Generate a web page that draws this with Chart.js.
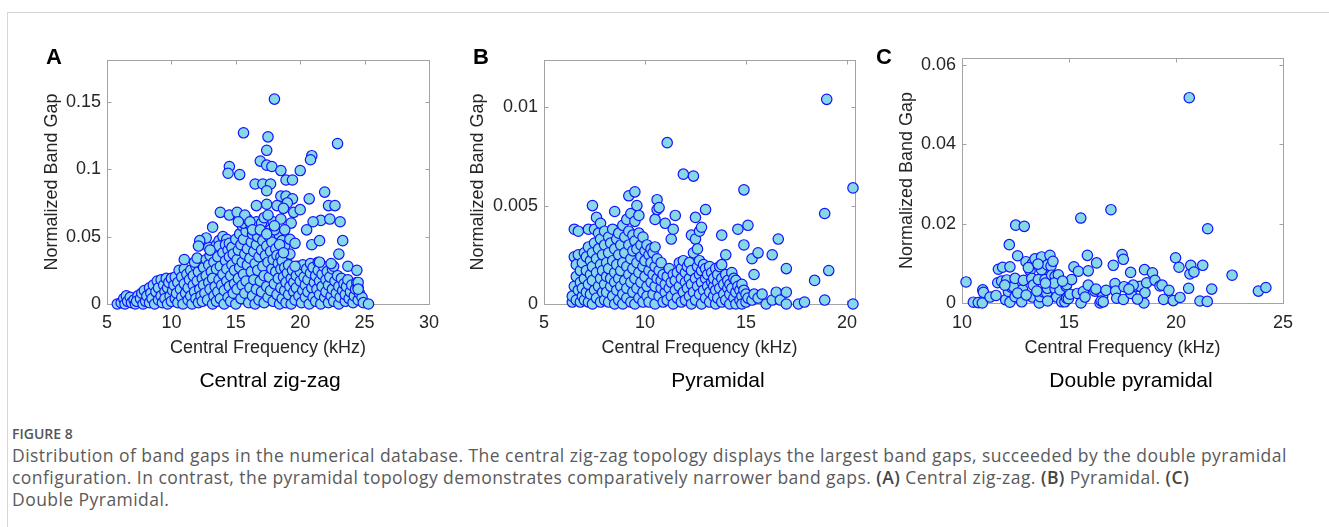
<!DOCTYPE html>
<html>
<head>
<meta charset="utf-8">
<script src="https://cdn.jsdelivr.net/npm/chart.js@4.4.1/dist/chart.umd.min.js"></script>
<style>
  html, body { margin: 0; padding: 0; background: #fff; }
  body { width: 1329px; height: 527px; position: relative; overflow: hidden; }
  .frame { position: absolute; left: 7px; top: 12px; width: 1340px; height: 540px; border: 1px solid #d6d6d6; box-sizing: border-box; }
  canvas { position: absolute; top: 0; }
  .tag { position: absolute; top: 46px; font: bold 22px/22px "Liberation Sans", Arial, sans-serif; color: #000; }
  .name { position: absolute; top: 368px; font: 21px/24px "Liberation Sans", Arial, sans-serif; color: #000;
          transform: translateX(-50%); white-space: nowrap; }
  .fig { position: absolute; left: 12px; top: 425px; font: 600 14px/18px "Open Sans", sans-serif; color: #555; }
  .caption { position: absolute; left: 12px; top: 444px; font: 17.5px/22px "Open Sans", sans-serif; letter-spacing: 0.45px;
             color: #5a5a5a; white-space: nowrap; }
  .caption b { font-weight: 600; color: #444; }
</style>
</head>
<body>
<div class="frame"></div>
<div id="charts"></div>
<div class="tag" style="left:46px">A</div>
<div class="tag" style="left:473px">B</div>
<div class="tag" style="left:876px">C</div>
<div class="name" style="left:270px">Central zig-zag</div>
<div class="name" style="left:718px">Pyramidal</div>
<div class="name" style="left:1131px">Double pyramidal</div>
<div class="fig">FIGURE 8</div>
<div class="caption">Distribution of band gaps in the numerical database. The central zig-zag topology displays the largest band gaps, succeeded by the double pyramidal<br>configuration. In contrast, the pyramidal topology demonstrates comparatively narrower band gaps. <b>(A)</b> Central zig-zag. <b>(B)</b> Pyramidal. <b>(C)</b><br>Double Pyramidal.</div>

<script>
// ---- data: [central frequency kHz, normalized band gap] ----
const zigzagXTicks = [5, 10, 15, 20, 25, 30];
const zigzagYTicks = [0, 0.05, 0.1, 0.15];
const zigzagPoints = [
  [5.8,0.000],[6.1,0.001],[6.3,0.004],[6.5,0.006],[6.4,0.000],[6.6,0.002],
  [6.8,0.005],[6.9,0.001],[7.1,0.003],[7.2,0.000],[7.4,0.006],[7.3,0.002],
  [7.6,0.004],[7.7,0.008],[7.8,0.000],[7.9,0.010],[8.0,0.002],[8.1,0.006],[8.3,0.012],[8.3,0.001],[8.4,0.008],[8.5,0.004],
  [8.6,0.014],[8.7,0.000],[8.8,0.009],[8.9,0.017],[9.0,0.003],[9.0,0.012],[9.2,0.006],[9.2,0.018],[9.3,0.001],[9.4,0.014],[9.5,0.009],[9.5,0.004],
  [9.6,0.019],[9.7,0.000],[9.7,0.012],[9.8,0.016],[9.9,0.006],[10.0,0.002],[10.0,0.019],[10.1,0.010],[10.2,0.014],[10.3,0.004],[10.3,0.020],[10.4,0.008],[10.5,0.001],[10.5,0.016],
  [10.6,0.025],[10.7,0.011],[10.8,0.005],[10.8,0.020],[10.9,0.000],[11.0,0.015],[11.0,0.026],[11.1,0.008],[11.2,0.022],[11.3,0.003],[11.3,0.012],[11.4,0.018],[11.5,0.006],[11.5,0.025],
  [11.6,0.000],[11.7,0.014],[11.7,0.021],[11.8,0.009],[11.9,0.028],[11.9,0.004],[12.0,0.017],[12.1,0.024],[12.1,0.001],[12.2,0.011],[12.3,0.030],[12.3,0.006],[12.4,0.019],[12.5,0.014],[12.5,0.027],[12.4,0.002],
  [11.8,0.031],[12.0,0.034],[11.0,0.033],
  [12.6,0.008],[12.7,0.033],[12.7,0.021],[12.8,0.003],[12.9,0.016],[12.9,0.029],[13.0,0.011],[13.0,0.036],[13.1,0.024],[13.2,0.000],[13.2,0.019],[13.3,0.006],[13.3,0.031],[13.4,0.013],[13.4,0.040],[13.5,0.026],[13.5,0.002],
  [12.9,0.042],[13.5,0.044],[13.7,0.047],[14.0,0.050],[14.3,0.048],
  [13.6,0.009],[13.6,0.035],[13.7,0.018],[13.7,0.043],[13.8,0.004],[13.8,0.028],[13.9,0.014],[14.0,0.038],[14.0,0.022],[14.1,0.000],[14.1,0.010],[14.2,0.032],[14.2,0.044],[14.3,0.017],[14.3,0.026],[14.4,0.005],[14.4,0.040],[14.5,0.013],[14.5,0.035],[14.5,0.045],
  [14.6,0.002],[14.6,0.021],[14.7,0.029],[14.7,0.042],[14.8,0.008],[14.8,0.037],[14.9,0.015],[14.9,0.025],[15.0,0.048],[15.0,0.000],[15.1,0.033],[15.1,0.011],[15.2,0.019],[15.2,0.040],[15.3,0.027],[15.3,0.052],[15.4,0.004],[15.4,0.044],[15.5,0.014],[15.5,0.031],[15.5,0.058],
  [15.6,0.022],[15.6,0.048],[15.7,0.037],[15.7,0.008],[15.8,0.054],[15.8,0.017],[15.9,0.029],[15.9,0.041],[16.0,0.001],[16.0,0.060],[16.1,0.012],[16.1,0.034],[16.2,0.046],[16.2,0.024],[16.3,0.006],[16.3,0.052],[16.4,0.018],[16.4,0.039],[16.5,0.030],[16.5,0.000],[16.5,0.057],
  [16.6,0.011],[16.6,0.044],[16.7,0.025],[16.7,0.050],[16.8,0.003],[16.8,0.035],[16.9,0.017],[16.9,0.055],[17.0,0.040],[17.0,0.009],[17.1,0.028],[17.1,0.047],[17.2,0.021],[17.2,0.001],[17.3,0.036],[17.3,0.058],[17.4,0.013],[17.4,0.043],[17.5,0.031],[17.5,0.005],
  [15.2,0.063],[15.6,0.060],[15.9,0.063],[16.2,0.058],[16.6,0.061],[17.0,0.060],[17.2,0.064],[17.7,0.055],[17.9,0.061],[18.3,0.052],[18.6,0.047],[18.8,0.043],[19.0,0.036],[18.9,0.033],[19.2,0.037],
  [17.6,0.050],[17.6,0.020],[17.7,0.039],[17.7,0.010],[17.8,0.026],[17.8,0.046],[17.9,0.002],[17.9,0.033],[18.0,0.015],[18.0,0.055],[18.1,0.041],[18.1,0.024],[18.2,0.007],[18.2,0.036],[18.3,0.019],[18.3,0.030],[18.4,0.000],[18.4,0.044],[18.5,0.012],[18.5,0.035],[18.5,0.026],
  [18.6,0.004],[18.6,0.032],[18.7,0.020],[18.7,0.038],[18.8,0.010],[18.8,0.027],[18.9,0.016],[18.9,0.001],[19.0,0.023],[19.1,0.007],[19.1,0.029],[19.2,0.013],[19.3,0.019],[19.3,0.000],[19.4,0.025],[19.5,0.009],[19.5,0.016],
  [19.6,0.003],[19.7,0.021],[19.7,0.012],[19.8,0.028],[19.9,0.006],[20.0,0.017],[20.0,0.024],[20.1,0.001],[20.2,0.010],[20.2,0.029],[20.3,0.020],[20.4,0.014],[20.4,0.005],[20.5,0.026],
  [20.6,0.009],[20.6,0.018],[20.7,0.000],[20.8,0.030],[20.8,0.023],[20.9,0.012],[21.0,0.005],[21.0,0.027],[21.1,0.016],[21.2,0.021],[21.2,0.002],[21.3,0.011],[21.4,0.031],[21.4,0.025],[21.5,0.007],[21.5,0.017],
  [21.6,0.000],[21.7,0.022],[21.7,0.013],[21.8,0.028],[21.9,0.005],[22.0,0.018],[22.0,0.009],[22.1,0.024],[22.2,0.001],[22.2,0.014],[22.3,0.020],[22.4,0.006],[22.5,0.011],[22.5,0.026],
  [22.6,0.002],[22.7,0.017],[22.8,0.008],[22.9,0.021],[23.0,0.013],[23.0,0.000],[23.1,0.005],[23.2,0.019],[23.3,0.010],[23.4,0.015],[23.5,0.002],[23.5,0.007],
  [23.6,0.013],[23.7,0.018],[23.8,0.004],[23.9,0.009],[24.0,0.014],[24.1,0.001],[24.2,0.006],[24.3,0.011],[24.4,0.016],[24.5,0.003],[24.5,0.012],[24.6,0.008],[24.8,0.005],[24.9,0.001],[25.3,0.000],
  [18.0,0.152],[15.6,0.127],[17.5,0.124],[22.9,0.119],[17.4,0.114],[16.9,0.106],[20.9,0.110],[20.8,0.107],[17.4,0.103],[17.8,0.102],
  [18.5,0.099],[20.0,0.099],[14.5,0.102],[14.4,0.097],[15.3,0.096],[18.9,0.092],[19.4,0.092],[16.5,0.089],[17.1,0.089],[17.7,0.089],
  [17.4,0.084],[21.9,0.083],[20.7,0.078],[18.5,0.080],[18.9,0.080],[19.4,0.078],[19.0,0.075],[16.6,0.073],[17.4,0.074],[22.2,0.073],
  [22.7,0.073],[18.2,0.073],[18.7,0.071],[19.5,0.068],[20.0,0.070],[17.5,0.066],[13.8,0.068],[14.5,0.066],[15.1,0.068],[15.7,0.066],
  [21.6,0.062],[21.0,0.061],[22.3,0.063],[23.1,0.061],[18.5,0.063],[19.3,0.060],[20.5,0.055],[13.2,0.057],[15.2,0.061],[16.1,0.061],
  [16.3,0.055],[16.9,0.055],[17.4,0.052],[18.0,0.058],[18.8,0.055],[19.2,0.048],[19.6,0.045],[20.9,0.044],[21.5,0.047],[23.3,0.047],
  [23.0,0.037],[23.7,0.028],[24.4,0.025],[24.5,0.016],[24.5,0.011],[22.6,0.028],[21.5,0.031],[19.6,0.028],[12.7,0.049],[12.2,0.047],
  [12.1,0.043],[13.0,0.040],[22.4,0.030]
];

const pyramidalXTicks = [5, 10, 15, 20];
const pyramidalYTicks = [0, 0.005, 0.01];
const pyramidalPoints = [
  [6.4,0.0001],[6.4,0.0004],[6.5,0.0009],[6.5,0.0024],[6.5,0.0038],[6.6,0.0002],[6.6,0.0014],[6.6,0.0020],
  [6.7,0.0007],[6.7,0.0025],[6.7,0.0037],[6.8,0.0001],[6.8,0.0011],[6.8,0.0017],[6.9,0.0004],[6.9,0.0021],[6.9,0.0008],
  [7.0,0.0013],[7.0,0.0026],[7.0,0.0002],[7.1,0.0006],[7.1,0.0017],[7.1,0.0024],[7.2,0.0001],[7.2,0.0010],[7.2,0.0029],[7.2,0.0038],
  [7.3,0.0005],[7.3,0.0015],[7.3,0.0022],[7.4,0.0000],[7.4,0.0012],[7.4,0.0019],[7.4,0.0026],[7.4,0.0050],
  [7.5,0.0007],[7.5,0.0031],[7.5,0.0038],[7.6,0.0003],[7.6,0.0016],[7.6,0.0023],[7.6,0.0044],[7.7,0.0009],[7.7,0.0028],[7.7,0.0036],
  [7.8,0.0001],[7.8,0.0013],[7.8,0.0020],[7.8,0.0033],[7.8,0.0041],[7.9,0.0006],[7.9,0.0017],[7.9,0.0025],
  [8.0,0.0002],[8.0,0.0010],[8.0,0.0030],[8.0,0.0037],[8.1,0.0014],[8.1,0.0021],[8.1,0.0006],
  [8.2,0.0001],[8.2,0.0018],[8.2,0.0026],[8.2,0.0034],[8.3,0.0009],[8.3,0.0013],[8.3,0.0031],[8.4,0.0004],[8.4,0.0022],[8.4,0.0038],
  [8.5,0.0000],[8.5,0.0011],[8.5,0.0016],[8.5,0.0028],[8.5,0.0047],[8.6,0.0007],[8.6,0.0020],[8.6,0.0033],
  [8.7,0.0002],[8.7,0.0013],[8.7,0.0025],[8.7,0.0036],[8.8,0.0009],[8.8,0.0017],[8.8,0.0030],
  [8.9,0.0000],[8.9,0.0005],[8.9,0.0021],[8.9,0.0040],[9.0,0.0012],[9.0,0.0026],[9.0,0.0034],
  [9.1,0.0003],[9.1,0.0008],[9.1,0.0019],[9.1,0.0043],[9.2,0.0015],[9.2,0.0030],[9.2,0.0037],[9.2,0.0055],
  [9.3,0.0001],[9.3,0.0011],[9.3,0.0023],[9.3,0.0046],[9.4,0.0006],[9.4,0.0018],[9.4,0.0027],[9.4,0.0035],
  [9.5,0.0000],[9.5,0.0013],[9.5,0.0032],[9.5,0.0042],[9.5,0.0057],[9.6,0.0008],[9.6,0.0021],[9.6,0.0028],[9.6,0.0050],
  [9.7,0.0003],[9.7,0.0016],[9.7,0.0036],[9.7,0.0045],[9.8,0.0011],[9.8,0.0024],[9.8,0.0030],
  [9.9,0.0001],[9.9,0.0006],[9.9,0.0019],[9.9,0.0034],[10.0,0.0014],[10.0,0.0027],[10.0,0.0022],
  [10.1,0.0004],[10.1,0.0009],[10.1,0.0030],[10.2,0.0017],[10.2,0.0025],[10.2,0.0001],
  [10.3,0.0011],[10.3,0.0021],[10.3,0.0028],[10.4,0.0005],[10.4,0.0015],[10.4,0.0026],
  [10.5,0.0000],[10.5,0.0009],[10.5,0.0019],[10.5,0.0029],[10.5,0.0043],[10.6,0.0013],[10.6,0.0023],[10.6,0.0053],[10.6,0.0048],
  [10.7,0.0004],[10.7,0.0017],[10.7,0.0049],[10.8,0.0008],[10.8,0.0012],[10.8,0.0021],[10.9,0.0001],[10.9,0.0015],
  [11.0,0.0006],[11.0,0.0010],[11.0,0.0041],[11.1,0.0002],[11.1,0.0014],[11.1,0.0082],[11.2,0.0008],[11.2,0.0018],
  [11.3,0.0004],[11.3,0.0011],[11.3,0.0033],[11.4,0.0000],[11.4,0.0015],[11.4,0.0038],[11.5,0.0045],[11.5,0.0007],[11.5,0.0012],
  [11.6,0.0003],[11.6,0.0016],[11.7,0.0009],[11.7,0.0021],[11.8,0.0001],[11.8,0.0013],[11.8,0.0018],
  [11.9,0.0006],[11.9,0.0022],[11.9,0.0066],[12.0,0.0011],[12.0,0.0016],[12.0,0.0002],[12.1,0.0008],[12.1,0.0019],
  [12.2,0.0004],[12.2,0.0013],[12.2,0.0021],[12.3,0.0000],[12.3,0.0010],[12.3,0.0017],[12.3,0.0035],
  [12.4,0.0006],[12.4,0.0026],[12.4,0.0065],[12.5,0.0002],[12.5,0.0013],[12.5,0.0044],[12.5,0.0033],
  [12.6,0.0009],[12.6,0.0019],[12.6,0.0028],[12.7,0.0005],[12.7,0.0015],[12.7,0.0022],[12.7,0.0037],
  [12.8,0.0000],[12.8,0.0011],[12.8,0.0017],[12.8,0.0039],[12.9,0.0007],[12.9,0.0020],
  [13.0,0.0003],[13.0,0.0013],[13.0,0.0018],[13.0,0.0048],[13.1,0.0009],[13.1,0.0015],
  [13.2,0.0001],[13.2,0.0006],[13.2,0.0019],[13.3,0.0011],[13.3,0.0016],[13.4,0.0004],[13.4,0.0009],[13.4,0.0013],
  [13.5,0.0000],[13.5,0.0018],[13.5,0.0007],[13.6,0.0011],[13.6,0.0015],[13.6,0.0003],[13.7,0.0008],[13.7,0.0019],
  [13.8,0.0001],[13.8,0.0013],[13.8,0.0035],[13.8,0.0020],[13.9,0.0005],[13.9,0.0010],
  [14.0,0.0002],[14.0,0.0015],[14.0,0.0025],[14.1,0.0008],[14.1,0.0012],[14.2,0.0000],[14.2,0.0005],[14.2,0.0010],
  [14.3,0.0016],[14.3,0.0008],[14.4,0.0003],[14.4,0.0013],[14.5,0.0006],[14.5,0.0012],[14.5,0.0000],[14.6,0.0009],[14.6,0.0038],
  [14.7,0.0002],[14.7,0.0007],[14.8,0.0004],[14.8,0.0010],[14.8,0.0000],[14.9,0.0007],[14.9,0.0030],[14.9,0.0058],
  [15.0,0.0001],[15.0,0.0005],[15.1,0.0003],[15.1,0.0040],[15.3,0.0002],[15.3,0.0023],[15.4,0.0005],[15.4,0.0015],
  [15.6,0.0003],[15.6,0.0026],[15.8,0.0005],[16.0,0.0000],[16.3,0.0002],[16.3,0.0025],[16.5,0.0006],[16.6,0.0033],
  [16.7,0.0002],[17.0,0.0006],[17.0,0.0018],[17.0,0.0000],[17.6,0.0000],[17.9,0.0001],[18.4,0.0012],
  [18.9,0.0002],[18.9,0.0046],[19.0,0.0104],[19.1,0.0017],[20.3,0.0059],[20.3,0.0000]
];

const doubleXTicks = [10, 15, 20, 25];
const doubleYTicks = [0, 0.02, 0.04, 0.06];
const doublePoints = [
  [10.19,0.0053],[10.53,0.0002],[10.76,0.0001],[10.95,0.0000],[10.97,0.0033],[11.00,0.0027],[11.31,0.0015],[11.59,0.0019],
  [11.67,0.0051],[11.70,0.0085],[11.90,0.0090],[11.85,0.0055],[12.04,0.0008],[12.09,0.0058],[12.17,0.0029],[12.24,0.0091],
  [12.21,0.0147],[12.24,0.0002],[12.30,0.0040],[12.40,0.0041],[12.48,0.0062],[12.48,0.0016],[12.51,0.0196],[12.60,0.0119],
  [12.79,0.0003],[12.83,0.0034],[12.87,0.0057],[12.91,0.0193],[12.99,0.0104],[13.18,0.0081],[13.26,0.0062],
  [13.29,0.0015],[13.29,0.0100],[13.33,0.0045],[13.41,0.0111],[13.57,0.0059],[13.61,0.0000],[13.65,0.0016],
  [13.72,0.0084],[13.72,0.0116],[13.80,0.0028],[13.88,0.0059],[13.96,0.0025],[13.99,0.0096],[13.99,0.0037],
  [14.11,0.0120],[14.16,0.0093],[14.19,0.0070],[14.35,0.0036],[14.35,0.0067],[14.42,0.0015],[14.50,0.0071],[14.58,0.0033],
  [14.66,0.0003],[14.81,0.0003],[14.86,0.0042],[14.89,0.0012],[14.89,0.0046],[14.97,0.0011],[15.05,0.0022],[15.12,0.0059],
  [15.23,0.0091],[15.39,0.0024],[15.44,0.0080],[15.55,0.0214],[15.56,0.0000],[15.67,0.0029],[15.75,0.0015],[15.86,0.0120],
  [15.90,0.0045],[15.90,0.0081],[16.21,0.0030],[16.26,0.0035],[16.29,0.0101],[16.45,0.0000],[16.57,0.0015],[16.73,0.0032],
  [16.96,0.0235],[17.07,0.0095],[17.15,0.0049],[17.18,0.0030],[17.23,0.0012],[17.48,0.0122],[17.54,0.0110],[17.54,0.0009],
  [17.57,0.0041],[17.88,0.0077],[17.90,0.0024],[18.13,0.0041],[18.32,0.0042],[18.50,0.0000],[18.53,0.0084],[18.55,0.0026],
  [18.63,0.0051],[18.90,0.0076],[19.02,0.0057],[19.25,0.0043],[19.35,0.0045],[19.42,0.0009],[19.67,0.0032],[19.87,0.0006],
  [19.98,0.0114],[20.14,0.0090],[20.19,0.0014],[20.59,0.0037],[20.62,0.0517],[20.65,0.0073],[20.69,0.0095],[20.84,0.0078],
  [21.12,0.0005],[21.25,0.0095],[21.46,0.0004],[21.48,0.0187],[21.67,0.0035],[22.62,0.0070],[23.85,0.0030],[24.20,0.0039],
  [12.60,0.0025],[13.00,0.0020],[13.50,0.0030],[14.00,0.0005],[14.30,0.0050],[12.00,0.0045],[13.90,0.0050],[14.70,0.0055],
  [16.50,0.0005],[16.60,0.0003],[18.00,0.0045],[18.20,0.0010],[17.80,0.0035],[13.10,0.0089],[13.55,0.0098],[14.25,0.0105]
];

const TEXT = '#262626';
const AXIS = '#a3a3a3';
const FONT = '"Liberation Sans", Arial, sans-serif';

// MATLAB-like box with inward ticks on all four sides
const axesBox = {
  id: 'axesBox',
  beforeDatasetsDraw(chart) {
    const { ctx, chartArea: a, scales: { x, y } } = chart;
    const L = Math.round(a.left) + 0.5, R = Math.round(a.right) + 0.5;
    const T = Math.round(a.top) + 0.5, B = Math.round(a.bottom) + 0.5;
    ctx.save();
    ctx.strokeStyle = AXIS;
    ctx.lineWidth = 1;
    ctx.strokeRect(L, T, R - L, B - T);
    ctx.beginPath();
    x.ticks.forEach((t) => {
      const px = Math.round(x.getPixelForValue(t.value)) + 0.5;
      ctx.moveTo(px, B); ctx.lineTo(px, B - 4);
      ctx.moveTo(px, T); ctx.lineTo(px, T + 4);
    });
    y.ticks.forEach((t) => {
      const py = Math.round(y.getPixelForValue(t.value)) + 0.5;
      ctx.moveTo(L, py); ctx.lineTo(L + 4, py);
      ctx.moveTo(R, py); ctx.lineTo(R - 4, py);
    });
    ctx.stroke();
    ctx.restore();
  }
};

const panels = [
  { points: zigzagPoints, xTicks: zigzagXTicks, yTicks: zigzagYTicks, xMin: 5, xMax: 30, yMax: 0.181,
    left: 0, width: 450, area: { left: 107, top: 60, right: 429, bottom: 304 }, yTitleX: 52 },
  { points: pyramidalPoints, xTicks: pyramidalXTicks, yTicks: pyramidalYTicks, xMin: 5, xMax: 20.4, yMax: 0.0124,
    left: 440, width: 430, area: { left: 104, top: 60, right: 415, bottom: 304 }, yTitleX: 38 },
  { points: doublePoints, xTicks: doubleXTicks, yTicks: doubleYTicks, xMin: 10, xMax: 25, yMax: 0.0617,
    left: 870, width: 459, area: { left: 92, top: 58, right: 413, bottom: 303 }, yTitleX: 37 },
];

const H = 370;
const HALF_LINE = 18 * 1.2 / 2;

panels.forEach((p) => {
  const cv = document.createElement('canvas');
  cv.width = p.width; cv.height = H;
  cv.style.left = p.left + 'px';
  document.getElementById('charts').appendChild(cv);

  const padLeft = p.yTitleX - HALF_LINE;
  const xScaleH = 348 + HALF_LINE - p.area.bottom;
  const tickFont = { family: FONT, size: 18 };

  new Chart(cv, {
    type: 'scatter',
    data: {
      datasets: [{
        data: p.points.map(([x, y]) => ({ x, y })),
        pointRadius: 5.2,
        pointBorderWidth: 1.2,
        pointBackgroundColor: '#86d8e7',
        pointBorderColor: '#1212ff',
        clip: false,
      }],
    },
    options: {
      responsive: false, animation: false, devicePixelRatio: 1,
      events: [],
      layout: { padding: { left: padLeft, top: p.area.top, right: p.width - p.area.right, bottom: H - p.area.bottom - xScaleH } },
      plugins: { legend: { display: false }, tooltip: { enabled: false } },
      scales: {
        x: {
          type: 'linear', min: p.xMin, max: p.xMax,
          grid: { display: false, drawTicks: false }, border: { display: false },
          afterBuildTicks: (s) => { s.ticks = p.xTicks.map((v) => ({ value: v })); },
          afterFit: (s) => { s.height = xScaleH; },
          ticks: { padding: 323 - p.area.bottom - HALF_LINE, font: tickFont, color: TEXT, maxRotation: 0, autoSkip: false, callback: (v) => String(v) },
          title: { display: true, text: 'Central Frequency (kHz)', font: tickFont, color: TEXT, padding: 0 },
        },
        y: {
          type: 'linear', min: 0, max: p.yMax,
          grid: { display: false, drawTicks: false }, border: { display: false },
          afterBuildTicks: (s) => { s.ticks = p.yTicks.map((v) => ({ value: v })); },
          afterFit: (s) => { s.width = p.area.left - padLeft; },
          ticks: { padding: 6, font: tickFont, color: TEXT, autoSkip: false, callback: (v) => String(v) },
          title: { display: true, text: 'Normalized Band Gap', font: tickFont, color: TEXT, padding: 0 },
        },
      },
    },
    plugins: [axesBox],
  });
});
</script>
</body>
</html>
